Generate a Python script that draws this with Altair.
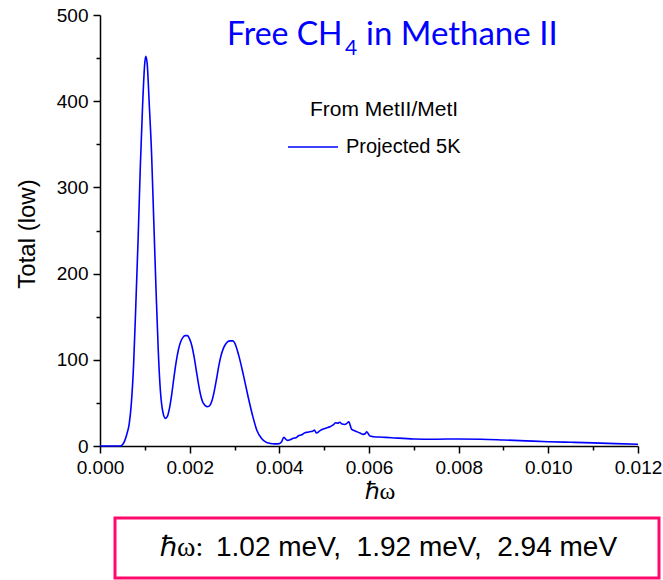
import altair as alt
import pandas as pd

# Projected 5K spectrum of free CH4 rotations in methane II
energy = [0, 0.0002, 0.0004, 0.00045, 0.0005, 0.00055, 0.0006, 0.00065, 0.0007, 0.00075,
          0.0008, 0.00085, 0.0009, 0.00095, 0.001, 0.00102, 0.00105, 0.0011, 0.00115, 0.0012,
          0.00125, 0.0013, 0.00135, 0.0014, 0.00146, 0.0015, 0.00155, 0.0016, 0.00165, 0.0017,
          0.00175, 0.0018, 0.00185, 0.0019, 0.00195, 0.002, 0.00205, 0.0021, 0.00215, 0.0022,
          0.00225, 0.0023, 0.0024, 0.00245, 0.0025, 0.00255, 0.0026, 0.00265, 0.0027, 0.00275,
          0.0028, 0.00285, 0.0029, 0.00296, 0.003, 0.0031, 0.0032, 0.0033, 0.0034, 0.0035,
          0.0036, 0.0037, 0.0038, 0.0039, 0.004, 0.00405, 0.0041, 0.00418, 0.00425, 0.00431,
          0.00437, 0.00442, 0.0045, 0.00457, 0.00463, 0.00468, 0.00474, 0.00478, 0.00483, 0.0049,
          0.00498, 0.00505, 0.00513, 0.0052, 0.00526, 0.0053, 0.00535, 0.0054, 0.00546, 0.0055,
          0.00555, 0.00561, 0.00567, 0.00573, 0.0058, 0.00587, 0.00592, 0.00595, 0.00602, 0.0061,
          0.0063, 0.0065, 0.007, 0.0075, 0.008, 0.0085, 0.009, 0.0095, 0.01, 0.0105,
          0.011, 0.0115, 0.012]
total = [0, 0, 0, 0, 1.5, 6, 14, 25, 50, 95,
         165, 240, 325, 395, 445, 452, 445, 395, 340, 260,
         181, 110, 62, 40, 32, 34, 44, 60, 80, 98,
         112, 121, 126, 128, 128, 124, 116, 103, 87, 71,
         58, 50, 45.6, 47, 53, 64, 78, 93, 105, 113,
         118, 121, 122, 122, 120, 104, 82, 58, 36, 18,
         9, 4.5, 3, 2.5, 2.8, 5, 10, 6.5, 7.5, 9,
         9.5, 11.6, 13, 15.5, 16, 16.6, 17, 18.5, 15, 17.5,
         19.7, 21, 22.4, 24.5, 27, 26.5, 27.5, 25.5, 25, 26,
         28, 19.5, 18, 16.6, 15, 13.5, 14.5, 16.5, 11.5, 10.8,
         10.2, 9.6, 8.2, 7.9, 8.2, 7.9, 7, 6, 5, 4.3,
         3.6, 2.8, 2]

x_ticks = [i / 1000 for i in range(13)]
y_ticks = list(range(0, 501, 50))

NBSP = "\u00a0"
title_main = "Free CH"
title_sub = "4"
title_tail = "in Methane II"
legend_title = "From MetII/MetI"
series_name = "Projected 5K"
x_title = "ℏω"
y_title = "Total (low)"
peaks_label = "ℏω:"
peaks_text = f",{NBSP}{NBSP}".join(["1.02 meV", "1.92 meV", "2.94 meV"])

BLUE = "#0000FF"
SANS = "Liberation Sans"

df = pd.DataFrame({"energy": energy, "total": total})

line = alt.Chart(df).mark_line(color=BLUE, strokeWidth=1.6, interpolate="monotone").encode(
    x=alt.X(
        "energy:Q",
        scale=alt.Scale(domain=[0, 0.012], nice=False),
        axis=alt.Axis(
            values=x_ticks,
            title=None,
            labelFlush=False,
            labelExpr="round(datum.value*1000) % 2 === 0 ? format(datum.value, '.3f') : ''",
            tickSize={"condition": {"test": "round(datum.value*1000) % 2 === 0", "value": 7}, "value": 4},
            labelPadding=5,
        ),
    ),
    y=alt.Y(
        "total:Q",
        scale=alt.Scale(domain=[0, 500], nice=False),
        axis=alt.Axis(
            values=y_ticks,
            title=None,
            labelFlush=False,
            labelExpr="datum.value % 100 === 0 ? datum.value : ''",
            tickSize={"condition": {"test": "datum.value % 100 === 0", "value": 7}, "value": 4},
            labelPadding=5,
        ),
    ),
)


def label(text, x, y, size, font=SANS, color="black", align="left", baseline="middle", angle=0, style="normal"):
    return alt.Chart(pd.DataFrame({"t": [text]})).mark_text(
        font=font, fontSize=size, color=color, align=align, baseline=baseline,
        angle=angle, fontStyle=style,
    ).encode(text="t:N", x=alt.value(x), y=alt.value(y))


title_layers = [
    label(title_main, 127, 30, 32, font="Lato", color=BLUE, baseline="alphabetic"),
    label(title_sub, 245, 40, 21, font="Lato", color=BLUE, baseline="alphabetic"),
    label(title_tail, 266, 30, 33, font="Lato", color=BLUE, baseline="alphabetic"),
]

legend_layers = [
    label(legend_title, 284, 95, 21, align="center"),
    alt.Chart(pd.DataFrame({"t": [series_name]})).mark_rule(color=BLUE, strokeWidth=1.6).encode(
        x=alt.value(188), x2=alt.value(238), y=alt.value(132)
    ),
    label(series_name, 246, 132, 20),
]

axis_titles = [
    label(x_title, 280, 477, 24, font="Liberation Serif", align="center"),
    label(y_title, -72, 219, 24, align="center", angle=270),
]

box = alt.Chart(pd.DataFrame({"t": [peaks_text]})).mark_rect(
    fill="white", fillOpacity=0, stroke="#FF0A6C", strokeWidth=3
).encode(x=alt.value(15), x2=alt.value(559), y=alt.value(503), y2=alt.value(563))

box_text = [
    label(peaks_label, 60, 533, 28, font="Liberation Serif"),
    label(peaks_text, 116, 533, 28),
]

chart = alt.layer(
    line, *title_layers, *legend_layers, *axis_titles, box, *box_text
).properties(
    width=538,
    height=431,
    autosize=alt.AutoSizeParams(type="none"),
    padding={"left": 100, "top": 15, "right": 25, "bottom": 134},
).configure_view(stroke=None).configure_axis(
    grid=False,
    domainColor="black",
    domainWidth=1.5,
    tickColor="black",
    tickWidth=1.5,
    labelFont=SANS,
    labelFontSize=19,
    labelColor="black",
)

chart.save("out.html", embed_options={"renderer": "svg", "actions": False})
